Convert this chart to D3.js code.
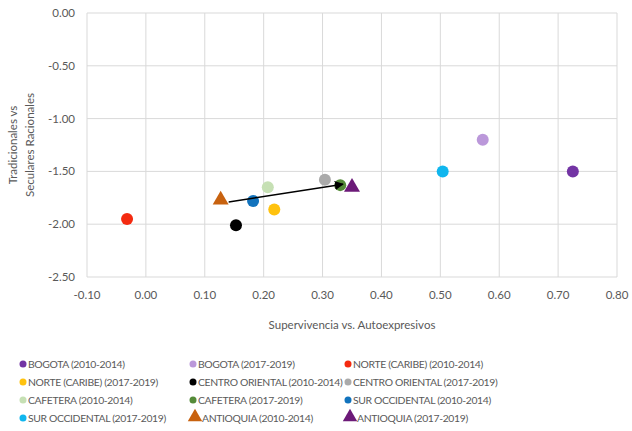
<!DOCTYPE html>
<html>
<head>
<meta charset="utf-8">
<script src="https://cdn.jsdelivr.net/npm/d3@7"></script>
<style>
  body { margin: 0; background: #fff; }
  text { font-family: Lato, "Open Sans", sans-serif; fill: #595959; }
</style>
</head>
<body>
<svg id="chart" width="632" height="431"></svg>
<script>
// datos
const regions = [
  "BOGOTA (2010-2014)", "BOGOTA (2017-2019)", "NORTE (CARIBE) (2010-2014)",
  "NORTE (CARIBE) (2017-2019)", "CENTRO ORIENTAL (2010-2014)", "CENTRO ORIENTAL (2017-2019)",
  "CAFETERA (2010-2014)", "CAFETERA (2017-2019)", "SUR OCCIDENTAL (2010-2014)",
  "SUR OCCIDENTAL (2017-2019)", "ANTIOQUIA (2010-2014)", "ANTIOQUIA (2017-2019)"
];
const supervivencia = [0.725, 0.572, -0.032, 0.218, 0.153, 0.304, 0.207, 0.330, 0.182, 0.504, 0.127, 0.350];
const tradicionales = [-1.50, -1.20, -1.95, -1.86, -2.01, -1.58, -1.65, -1.63, -1.78, -1.50, -1.77, -1.65];
const xTicks = [-0.1, 0, 0.1, 0.2, 0.3, 0.4, 0.5, 0.6, 0.7, 0.8];
const yTicks = [0, -0.5, -1, -1.5, -2, -2.5];

// estilo
const colors = ["#7334a4", "#bb98da", "#f42a10", "#ffc20e", "#000000", "#aaaaaa",
  "#c6e0b4", "#558b39", "#1273bd", "#10b6ee", "#c8620f", "#6c1a78"];
const triangles = new Set([10, 11]);
const fmt = d => d3.format(".2f")(d).replace("\u2212", "-");

const svg = d3.select("#chart");
const x = d3.scaleLinear().domain([-0.1, 0.8]).range([87, 617]);
const y = d3.scaleLinear().domain([0, -2.5]).range([13, 277]);

// rejilla
svg.append("g").selectAll("line").data(xTicks).join("line")
  .attr("x1", d => x(d)).attr("x2", d => x(d))
  .attr("y1", y(0)).attr("y2", y(-2.5))
  .attr("stroke", "#d9d9d9").attr("stroke-width", 1);
svg.append("g").selectAll("line").data(yTicks).join("line")
  .attr("x1", x(-0.1)).attr("x2", x(0.8))
  .attr("y1", d => y(d)).attr("y2", d => y(d))
  .attr("stroke", "#d9d9d9").attr("stroke-width", 1);

// ejes
svg.append("g").selectAll("text").data(xTicks).join("text")
  .attr("x", d => x(d)).attr("y", 299)
  .attr("text-anchor", "middle").style("font-size", "11.5px")
  .text(fmt);
svg.append("g").selectAll("text").data(yTicks).join("text")
  .attr("x", 75).attr("y", d => y(d) + 4)
  .attr("text-anchor", "end").style("font-size", "11.5px")
  .text(fmt);

svg.append("text").attr("x", 352).attr("y", 329)
  .attr("text-anchor", "middle").style("font-size", "11.5px")
  .text("Supervivencia vs. Autoexpresivos");
const yt = svg.append("text").attr("transform", "translate(17,145) rotate(-90)")
  .attr("text-anchor", "middle").style("font-size", "11.5px");
yt.append("tspan").attr("x", 0).attr("dy", 0).text("Tradicionales vs");
yt.append("tspan").attr("x", 0).attr("dy", 17).text("Seculares Racionales");

// flecha Antioquia
svg.append("defs").append("marker")
  .attr("id", "arrow").attr("viewBox", "0 0 10 10")
  .attr("refX", 9).attr("refY", 5)
  .attr("markerWidth", 6).attr("markerHeight", 6)
  .attr("orient", "auto")
  .append("path").attr("d", "M0,0L10,5L0,10z").attr("fill", "#000");

const pts = regions.map((r, i) => ({ i, name: r, x: supervivencia[i], y: tradicionales[i] }));

const tri = d3.symbol().type(d3.symbolTriangle);
const marks = svg.append("g");
pts.filter(d => !triangles.has(d.i)).forEach(d => {
  marks.append("circle")
    .attr("cx", x(d.x)).attr("cy", y(d.y)).attr("r", 6)
    .attr("fill", colors[d.i]);
});

const a0 = pts[10], a1 = pts[11];
svg.append("line")
  .attr("x1", x(a0.x) + 8).attr("y1", y(a0.y) + 2)
  .attr("x2", x(a1.x) - 9).attr("y2", y(a1.y) - 3)
  .attr("stroke", "#000").attr("stroke-width", 1.5)
  .attr("marker-end", "url(#arrow)");

pts.filter(d => triangles.has(d.i)).forEach(d => {
  svg.append("path")
    .attr("d", tri.size(110)())
    .attr("transform", `translate(${x(d.x)},${y(d.y)})`)
    .attr("fill", colors[d.i]);
});

// leyenda
const colX = [23, 193, 348];
const rowY = [364, 382, 400, 418];
const lg = svg.append("g").selectAll("g").data(pts).join("g")
  .attr("transform", d => `translate(${colX[d.i % 3]},${rowY[Math.floor(d.i / 3)]})`);
lg.each(function (d) {
  const g = d3.select(this);
  const isTri = triangles.has(d.i);
  if (isTri) {
    g.append("path").attr("d", tri.size(90)()).attr("transform", "translate(2,-1)")
      .attr("fill", colors[d.i]);
  } else {
    g.append("circle").attr("r", 3.5).attr("fill", colors[d.i]);
  }
  g.append("text").attr("x", isTri ? 9 : 5).attr("y", 4)
    .style("font-size", "10.4px").style("letter-spacing", "-0.35px")
    .text(d.name);
});
</script>
</body>
</html>
